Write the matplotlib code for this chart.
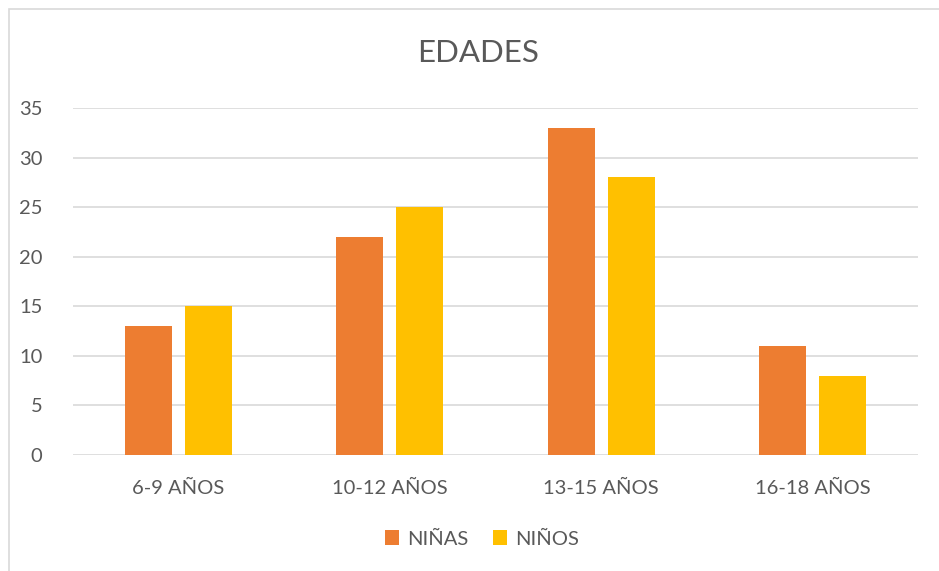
import matplotlib
matplotlib.use("Agg")
import matplotlib.pyplot as plt
import numpy as np
from matplotlib.patches import Rectangle

categories = ["6-9 AÑOS", "10-12 AÑOS", "13-15 AÑOS", "16-18 AÑOS"]
ninas = [13, 22, 33, 11]
ninos = [15, 25, 28, 8]
series_names = ["NIÑAS", "NIÑOS"]
yticks = [0, 5, 10, 15, 20, 25, 30, 35]

plt.rcParams['font.family'] = ['Lato', 'DejaVu Sans']
txt = '#595959'
W, H = 939, 571
fig = plt.figure(figsize=(W/100, H/100), dpi=100)
ax = fig.add_axes([73/W, 1-455/H, (918-73)/W, (455-108)/H])

# outer border
fig.patches.append(Rectangle((9/W, -0.01), 1.0, 1-9/H+0.01, transform=fig.transFigure,
                             fill=False, edgecolor='#d9d9d9', linewidth=1.2))

x = np.arange(len(categories))
bw = 47/211.25
off = 30/211.25
ax.bar(x - off, ninas, bw, color='#ED7D31', label=series_names[0], zorder=3)
ax.bar(x + off, ninos, bw, color='#FFC000', label=series_names[1], zorder=3)

ax.set_xlim(-0.5, 3.5)
ax.set_ylim(0, 35)
ax.set_yticks(yticks)
ax.set_xticks(x)
ax.set_xticklabels(categories)
ax.grid(axis='y', color='#d9d9d9', linewidth=1.2, zorder=0)
for s in ax.spines.values():
    s.set_visible(False)
ax.tick_params(axis='both', length=0, labelsize=14.5, colors=txt)
ax.tick_params(axis='y', pad=22)
ax.tick_params(axis='x', pad=18)

fig.text(478/W, 1-53/H, "EDADES", ha='center', va='center', fontsize=22.5, color=txt)

leg = fig.legend(loc='center', bbox_to_anchor=(482/W, 1-539/H), ncol=2, frameon=False,
                 fontsize=14.5, handlelength=0.7, handleheight=0.7, handletextpad=0.4,
                 columnspacing=1.2)
for t in leg.get_texts():
    t.set_color(txt)

fig.savefig("out.png", dpi=100, facecolor='white')
